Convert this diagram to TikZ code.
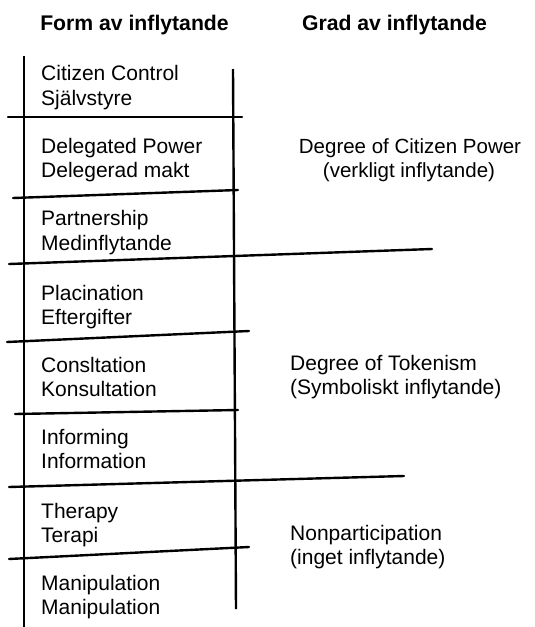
\documentclass[tikz,border=0pt]{standalone}
\usepackage{fontspec}
\setmainfont{Liberation Sans}
\begin{document}
\begin{tikzpicture}[x=1pt,y=-1pt,
  rung/.style={line width=2.4pt,line cap=round},
  rail/.style={line width=2.4pt},
  lbl/.style={inner sep=0pt,anchor=base west,font=\fontsize{21}{24}\selectfont},
  clbl/.style={inner sep=0pt,anchor=base,font=\fontsize{20.5}{24}\selectfont},
  ttl/.style={inner sep=0pt,anchor=base,font=\fontsize{21.2}{24}\selectfont\bfseries}]
\useasboundingbox (0,0) rectangle (535,627);
% rails
\coordinate (lt) at (24,56);
\coordinate (lb) at (24,627);
\coordinate (rt) at (233,69);
\coordinate (rb) at (236,609);
\draw[rail] (lt) -- (lb);
\draw[rail] (rt) -- (rb);
% rungs
\coordinate (a1) at (8,117);  \coordinate (b1) at (242,117);
\coordinate (a2) at (13,198); \coordinate (b2) at (238,190);
\coordinate (a3) at (9,264);  \coordinate (b3) at (432,249);
\coordinate (a4) at (7,342);  \coordinate (b4) at (249,331);
\coordinate (a5) at (15,414); \coordinate (b5) at (238,410);
\coordinate (a6) at (9,487);  \coordinate (b6) at (404,476);
\coordinate (a7) at (9,559);  \coordinate (b7) at (249,547);
\foreach \i in {1,...,7} \draw[rung] (a\i) -- (b\i);
% titles
\node[ttl] (t1) at (134.5,30) {Form av inflytande};
\node[ttl] (t2) at (394.5,30) {Grad av inflytande};
% ladder labels
\node[lbl] (c1) at (41,80) {Citizen Control};
\node[lbl] (c2) at (41,105) {Självstyre};
\node[lbl] (d1) at (41,153) {Delegated Power};
\node[lbl] (d2) at (41,177) {Delegerad makt};
\node[lbl] (p1) at (41,225) {Partnership};
\node[lbl] (p2) at (41,250) {Medinflytande};
\node[lbl] (q1) at (41,300) {Placination};
\node[lbl] (q2) at (41,324) {Eftergifter};
\node[lbl] (k1) at (41,372) {Consltation};
\node[lbl] (k2) at (41,396) {Konsultation};
\node[lbl] (i1) at (41,444) {Informing};
\node[lbl] (i2) at (41,468) {Information};
\node[lbl] (h1) at (41,518) {Therapy};
\node[lbl] (h2) at (41,542) {Terapi};
\node[lbl] (m1) at (41,590) {Manipulation};
\node[lbl] (m2) at (41,614) {Manipulation};
% degree labels
\node[clbl] (g1) at (410,153) {Degree of Citizen Power};
\node[clbl] (g2) at (409,177) {(verkligt inflytande)};
\node[lbl] (g3) at (290,370) {Degree of Tokenism};
\node[lbl] (g4) at (290,394) {(Symboliskt inflytande)};
\node[lbl] (g5) at (290,540) {Nonparticipation};
\node[lbl] (g6) at (290,564) {(inget inflytande)};
\end{tikzpicture}
\end{document}
